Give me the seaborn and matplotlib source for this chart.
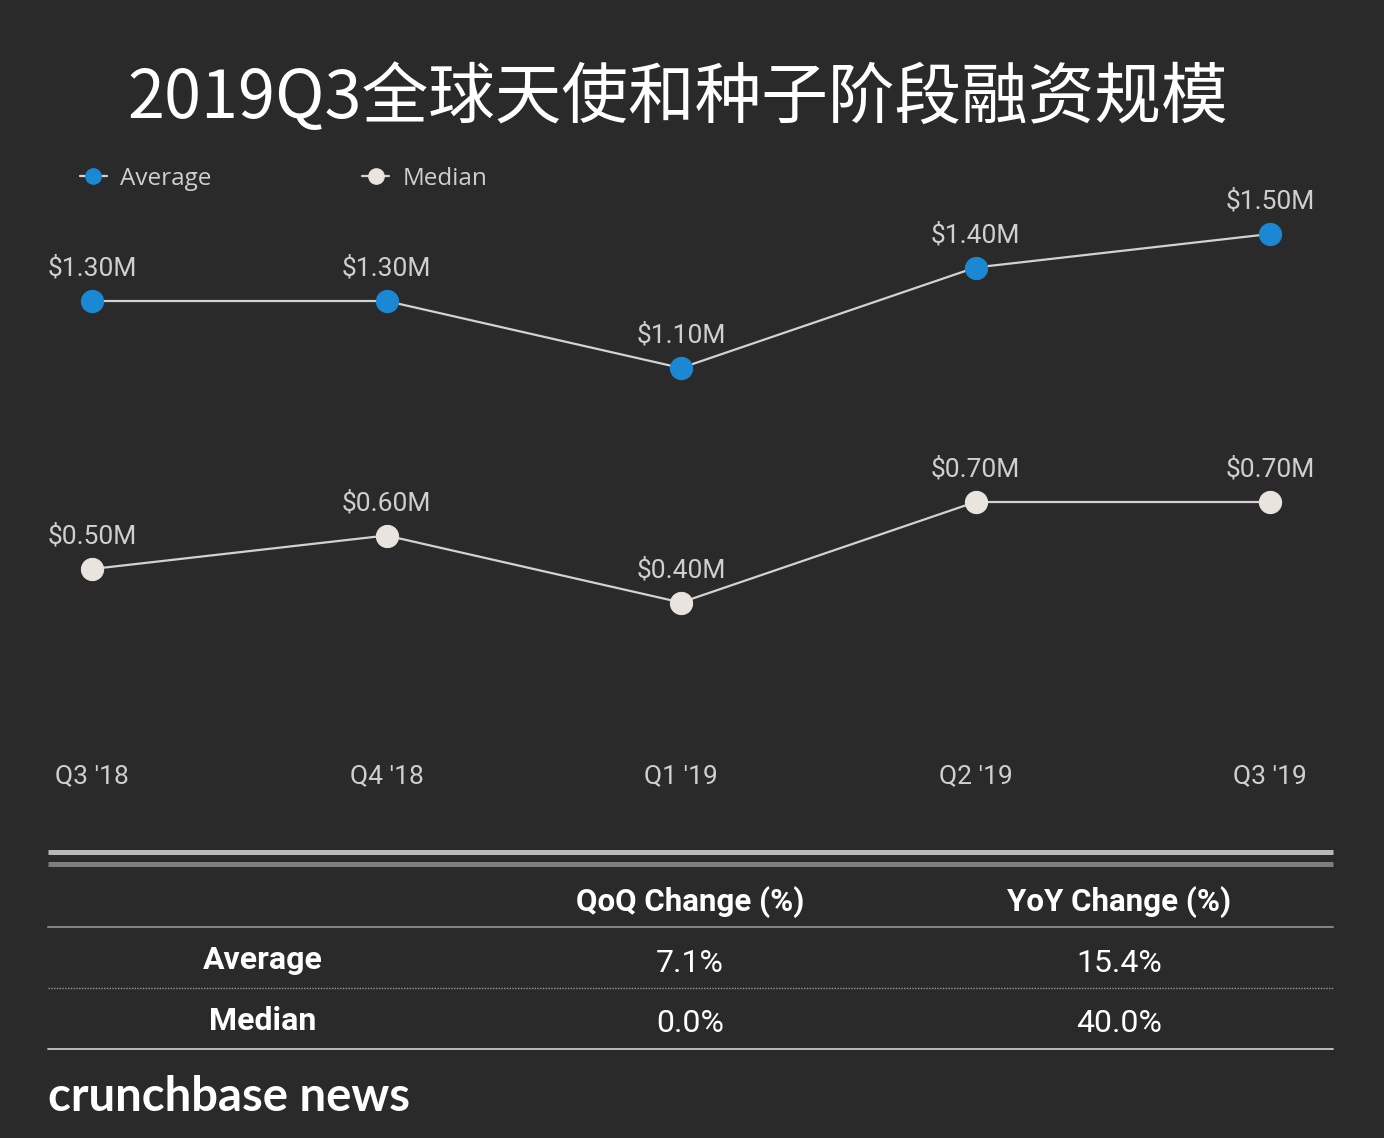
import matplotlib
matplotlib.use("Agg")
import matplotlib.pyplot as plt
from matplotlib.lines import Line2D
import seaborn as sns
import pandas as pd

quarters = ["Q3 '18", "Q4 '18", "Q1 '19", "Q2 '19", "Q3 '19"]
average_values = [1.30, 1.30, 1.10, 1.40, 1.50]
median_values = [0.50, 0.60, 0.40, 0.70, 0.70]

table_columns = ["QoQ Change (%)", "YoY Change (%)"]
table_rows = ["Average", "Median"]
qoq_change = ["7.1%", "0.0%"]
yoy_change = ["15.4%", "40.0%"]

title = "2019Q3全球天使和种子阶段融资规模"

BG = "#2a2a2a"
BLUE = "#1a88d2"
CREAM = "#e9e4de"
LINE = "#d2d2d2"
LABEL = "#cfcfcf"

sns.set_theme(style="dark")
plt.rcParams["font.family"] = ["Roboto", "Noto Sans CJK SC", "DejaVu Sans"]

W, H = 1384, 1138
fig = plt.figure(figsize=(W / 100, H / 100), dpi=100, facecolor=BG)

# pixel-space overlay for title, table and footer
over = fig.add_axes([0, 0, 1, 1])
over.set_xlim(0, W)
over.set_ylim(H, 0)
over.axis("off")
over.set_facecolor("none")

# main chart axes: categories 0..4 sit at x=92..1270 px
px_per_unit = (1270 - 92) / 4
ax = fig.add_axes([0, (H - 740) / H, 1, (740 - 150) / H])
ax.set_facecolor("none")
ax.set_xlim(-92 / px_per_unit, 4 + (W - 1270) / px_per_unit)
px_per_val = 335.0
ax.set_ylim(1.3 - (740 - 301) / px_per_val, 1.3 + (301 - 150) / px_per_val)

df = pd.DataFrame({
    "quarter": list(range(len(quarters))) * 2,
    "value": average_values + median_values,
    "series": ["Average"] * len(quarters) + ["Median"] * len(quarters),
})

for name, face in [("Average", BLUE), ("Median", CREAM)]:
    sub = df[df["series"] == name]
    sns.lineplot(data=sub, x="quarter", y="value", ax=ax, color=LINE, linewidth=1.6,
                 marker="o", markersize=16, markerfacecolor=face, markeredgecolor=face,
                 legend=False)
    for x, v in zip(sub["quarter"], sub["value"]):
        ax.annotate(f"${v:.2f}M", (x, v), xytext=(0, 23.5), textcoords="offset points",
                    ha="center", va="center", fontsize=19, color=LABEL)

ax.set_xticks(range(len(quarters)))
ax.set_xticklabels(quarters, fontsize=19, color=LABEL)
ax.set_yticks([])
ax.tick_params(axis="x", length=0, pad=17.5)
ax.set_xlabel("")
ax.set_ylabel("")
ax.grid(False)
for s in ax.spines.values():
    s.set_visible(False)

handles = [
    Line2D([], [], color=LINE, lw=1.6, marker="o", markersize=11,
           markerfacecolor=BLUE, markeredgecolor=BLUE, label="Average"),
    Line2D([], [], color=LINE, lw=1.6, marker="o", markersize=11,
           markerfacecolor=CREAM, markeredgecolor=CREAM, label="Median"),
]
leg = fig.legend(handles=handles, loc="center left", bbox_to_anchor=(80 / W, 1 - 179 / H),
                 ncol=2, frameon=False, fontsize=17.5, handlelength=1.1, handletextpad=0.55,
                 columnspacing=6.2, borderpad=0, borderaxespad=0)
for t in leg.get_texts():
    t.set_color(LABEL)
    t.set_family(["Open Sans", "DejaVu Sans"])

over.text(W / 2 - 14, 99, title, ha="center", va="center", fontsize=48, color="white",
          family=["Noto Sans CJK SC", "DejaVu Sans"])

# table
x0, x1 = 48, 1333
over.plot([x0, x1], [852, 852], color="#b8b8b8", lw=3.6, solid_capstyle="butt")
over.plot([x0, x1], [864, 864], color="#7e7e7e", lw=3.6, solid_capstyle="butt")
over.plot([x0, x1], [927, 927], color="#828282", lw=1.5)
over.plot([x0, x1], [988, 988], color="#9a9a9a", lw=1.0, linestyle=(0, (1, 1)))
over.plot([x0, x1], [1049, 1049], color="#c8c8c8", lw=1.3)

col_x = [690, 1119]
row_y = [960, 1021]
for cx, name in zip(col_x, table_columns):
    over.text(cx, 902, name, ha="center", va="center", fontsize=22.5, fontweight="bold",
              color="white")
for ry, name, q, y in zip(row_y, table_rows, qoq_change, yoy_change):
    over.text(263, ry, name, ha="center", va="center", fontsize=23, fontweight="bold",
              color="white")
    over.text(col_x[0], ry + 3, q, ha="center", va="center", fontsize=23, color="white")
    over.text(col_x[1], ry + 3, y, ha="center", va="center", fontsize=23, color="white")

over.text(48, 1097, "crunchbase news", ha="left", va="center", fontsize=34,
          fontweight="bold", color="white", family=["Lato", "DejaVu Sans"])

fig.savefig("out.png", dpi=100, facecolor=BG)
